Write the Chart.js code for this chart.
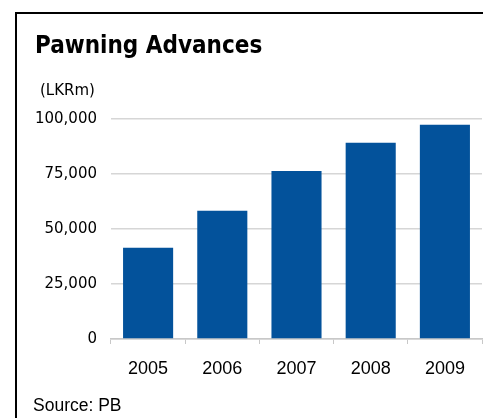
<!DOCTYPE html>
<html>
<head>
<meta charset="utf-8">
<script src="https://cdn.jsdelivr.net/npm/chart.js@4"></script>
<style>
  body { margin: 0; background: #fff; }
  #wrap { position: relative; width: 483px; height: 418px; overflow: hidden; }
  #cadre { position: absolute; left: 15px; top: 12px; width: 600px; height: 600px;
           border-top: 2px solid #000; border-left: 2px solid #000; }
  #graph { position: absolute; left: 0; top: 0; }
</style>
</head>
<body>
<div id="wrap">
  <div id="cadre"></div>
  <canvas id="graph" width="483" height="418"></canvas>
</div>
<script>
const annees = ["2005", "2006", "2007", "2008", "2009"];
const avances = [41500, 58300, 76400, 89200, 97400];
const graduations = [0, 25000, 50000, 75000, 100000];
const titre = "Pawning Advances";
const unite = "(LKRm)";
const source = "Source: PB";

// textes autour du graphique
const textes = {
    id: 'textes',
    afterDraw(chart) {
        const ctx = chart.ctx;
        ctx.save();
        ctx.fillStyle = '#000';
        ctx.textAlign = 'left';
        ctx.textBaseline = 'alphabetic';
        ctx.font = 'bold 24px "DejaVu Sans Condensed", "DejaVu Sans", sans-serif';
        ctx.fillText(titre, 35, 53);
        ctx.font = '15px "DejaVu Sans", sans-serif';
        ctx.fillText(unite, 40, 95);
        ctx.font = '17.5px "Liberation Sans", sans-serif';
        ctx.fillText(source, 33, 411);
        ctx.restore();
    }
};

const ctxGraph = document.getElementById('graph').getContext('2d');
new Chart(ctxGraph, {
    type: 'bar',
    data: {
        labels: annees,
        datasets: [{
            label: titre,
            data: avances,
            backgroundColor: '#03529b',
            borderWidth: 0,
            categoryPercentage: 1,
            barPercentage: 0.675
        }]
    },
    options: {
        responsive: false,
        animation: false,
        layout: { padding: { left: 0, right: 1, top: 119, bottom: 0 } },
        plugins: { legend: { display: false }, tooltip: { enabled: false } },
        scales: {
            x: {
                offset: true,
                grid: { offset: true, drawOnChartArea: false, drawTicks: true, tickLength: 5, color: '#c8c8c8' },
                border: { display: true, color: '#c8c8c8', width: 1.5 },
                ticks: {
                    color: '#000',
                    padding: 14,
                    font: { family: '"Liberation Sans", sans-serif', size: 18 }
                },
                afterFit: (scale) => { scale.height = 79; }
            },
            y: {
                min: 0,
                max: 100000,
                afterBuildTicks: (scale) => { scale.ticks = graduations.map(v => ({ value: v })); },
                grid: { drawTicks: false, color: '#d6d6d6', lineWidth: 1.5 },
                border: { display: false },
                ticks: {
                    color: '#000',
                    padding: 14,
                    font: { family: '"DejaVu Sans", sans-serif', size: 15 },
                    callback: (v) => v.toLocaleString('en-US')
                },
                afterFit: (scale) => { scale.width = 111; }
            }
        }
    },
    plugins: [textes]
});
</script>
</body>
</html>
